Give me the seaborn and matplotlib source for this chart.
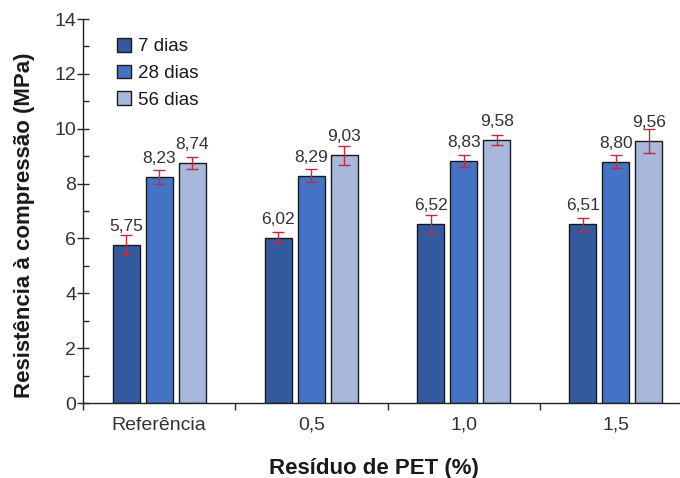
import numpy as np
import pandas as pd
import matplotlib
matplotlib.use("Agg")
import matplotlib.pyplot as plt
from matplotlib.ticker import MultipleLocator, FixedLocator
import seaborn as sns

# Data
categorias = ["Referência", "0,5", "1,0", "1,5"]
idades = ["7 dias", "28 dias", "56 dias"]
dias7 = [5.75, 6.02, 6.52, 6.51]
dias28 = [8.23, 8.29, 8.83, 8.80]
dias56 = [8.74, 9.03, 9.58, 9.56]
erro7 = [0.36, 0.20, 0.33, 0.25]
erro28 = [0.25, 0.24, 0.22, 0.23]
erro56 = [0.22, 0.34, 0.19, 0.44]

cores = ["#335A9F", "#4472C4", "#A8B7DC"]

df = pd.DataFrame({
    "residuo": categorias * 3,
    "idade": np.repeat(idades, 4),
    "valor": dias7 + dias28 + dias56,
    "erro": erro7 + erro28 + erro56,
})

sns.set_style("white")
plt.rcParams["font.family"] = ["Liberation Sans", "DejaVu Sans"]

fig = plt.figure(figsize=(6.8, 4.78), dpi=100)
ax = fig.add_axes([83 / 680, 75 / 478, 609 / 680, 384 / 478])

sns.barplot(data=df, x="residuo", y="valor", hue="idade", order=categorias,
            hue_order=idades, palette=cores, saturation=1, edgecolor="#1a1a1a",
            linewidth=1, width=0.65, gap=0.18, errorbar=None, ax=ax)

# error bars and value labels
for cont, idade in zip(ax.containers, idades):
    sub = df[df["idade"] == idade]
    for bar, v, e in zip(cont, sub["valor"], sub["erro"]):
        xc = bar.get_x() + bar.get_width() / 2
        ax.errorbar(xc, v, yerr=e, fmt="none", ecolor="#C8283C",
                    elinewidth=1, capsize=4, capthick=1, zorder=5)
        ax.annotate(f"{v:.2f}".replace(".", ","), (xc, v), xytext=(0, 8),
                    textcoords="offset points", ha="center", va="bottom",
                    fontsize=12.5, color="#333333")

ax.set_ylim(0, 14)
ax.set_xlim(-0.5, 3.5)
ax.yaxis.set_major_locator(MultipleLocator(2))
ax.yaxis.set_minor_locator(MultipleLocator(1))
ax.xaxis.set_minor_locator(FixedLocator([-0.5, 0.5, 1.5, 2.5]))
ax.tick_params(axis="y", which="major", direction="inout", length=8, width=1,
               labelsize=14, labelcolor="#333333", left=True, pad=1)
ax.tick_params(axis="y", which="minor", direction="in", length=4, width=1, left=True)
ax.tick_params(axis="x", which="major", direction="in", length=4, width=1,
               labelsize=14, labelcolor="#333333", bottom=True, pad=10)
ax.tick_params(axis="x", which="minor", direction="out", length=5, width=1, bottom=True)

for s in ["top", "right"]:
    ax.spines[s].set_visible(False)
for s in ["left", "bottom"]:
    ax.spines[s].set_color("#222222")
    ax.spines[s].set_linewidth(1)

ax.set_xlabel("Resíduo de PET (%)", fontsize=16, fontweight="bold", color="#1a1a1a")
ax.set_ylabel("Resistência à compressão (MPa)", fontsize=16, fontweight="bold",
              color="#1a1a1a")
ax.xaxis.set_label_coords(0.477, -0.143)
ax.yaxis.set_label_coords(-0.078, 0.4635)

leg = ax.legend(loc="upper left", bbox_to_anchor=(0.028, 0.995), frameon=False,
                fontsize=13.5, handlelength=0.75, handleheight=0.75,
                handletextpad=0.4, labelspacing=0.5)
for t in leg.get_texts():
    t.set_color("#1a1a1a")

fig.savefig("out.png", dpi=100)
